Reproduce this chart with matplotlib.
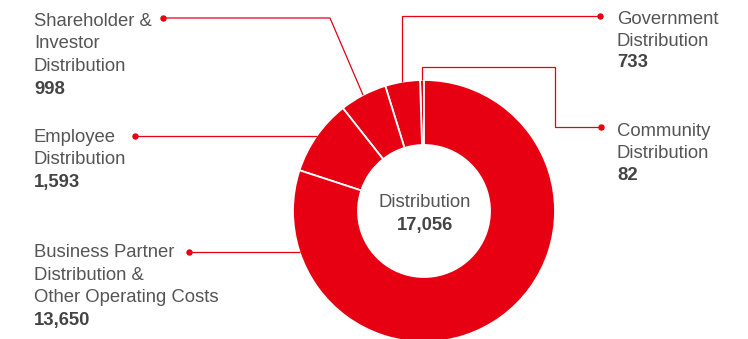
import matplotlib
matplotlib.use("Agg")
import matplotlib.pyplot as plt
import numpy as np

# ---- data -------------------------------------------------------------
categories = [
    "Community\nDistribution",
    "Government\nDistribution",
    "Shareholder &\nInvestor\nDistribution",
    "Employee\nDistribution",
    "Business Partner\nDistribution &\nOther Operating Costs",
]
values = [82, 733, 998, 1593, 13650]
center_title = "Distribution"

# ---- style ------------------------------------------------------------
RED = "#E60012"
TXT = "#555555"
NUM = "#444444"
FONT = ["Liberation Sans", "DejaVu Sans"]
FS = 13.3

W, H = 748, 339
fig = plt.figure(figsize=(W / 100, H / 100), dpi=100)
ax = fig.add_axes([0, 0, 1, 1])


def Y(y):
    """Convert a top-down layout coordinate to the axes' y."""
    return H - y


CX, CY, R, RING = 424, Y(211), 131, 65

wedges, _ = ax.pie(
    values,
    colors=[RED] * len(values),
    startangle=90,
    counterclock=True,
    radius=R,
    center=(CX, CY),
    wedgeprops=dict(width=RING, edgecolor="white", linewidth=1.3),
)
ax.set_xlim(0, W)
ax.set_ylim(0, H)
ax.set_aspect("equal")
ax.axis("off")


def mid_point(w):
    a = np.deg2rad((w.theta1 + w.theta2) / 2)
    return CX + R * np.cos(a), CY + R * np.sin(a)


def left_hit(y):
    dy = y - CY
    return CX - np.sqrt(R ** 2 - dy ** 2), y


line_kw = dict(color=RED, lw=0.9, solid_capstyle="butt", zorder=3)
dot_kw = dict(marker="o", ms=3.6, color=RED, zorder=4)

# Community: stepped leader to the right
cx_, cy_ = mid_point(wedges[0])
pts = [(cx_, cy_), (cx_, Y(67)), (555, Y(67)), (555, Y(127)), (601, Y(127))]
ax.plot(*zip(*pts), **line_kw)
ax.plot(601, Y(127), **dot_kw)

# Government: vertical then horizontal to the right
gx, gy = mid_point(wedges[1])
pts = [(gx, gy), (gx, Y(16)), (600, Y(16))]
ax.plot(*zip(*pts), **line_kw)
ax.plot(600, Y(16), **dot_kw)

# Shareholder: diagonal then horizontal to the left
sx, sy = mid_point(wedges[2])
pts = [(sx, sy), (330, Y(18)), (163, Y(18))]
ax.plot(*zip(*pts), **line_kw)
ax.plot(163, Y(18), **dot_kw)

# Employee: horizontal to the left
ex, ey = mid_point(wedges[3])
ax.plot([ex, 135], [ey, ey], **line_kw)
ax.plot(135, ey, **dot_kw)

# Business partner: horizontal to the left
bx, by = left_hit(Y(252))
ax.plot([bx, 189], [by, by], **line_kw)
ax.plot(189, by, **dot_kw)


def label(x, baselines, name, value):
    lines = name.split("\n")
    for b, t in zip(baselines, lines):
        ax.text(x, Y(b), t, fontsize=FS, color=TXT, family=FONT,
                ha="left", va="baseline")
    ax.text(x, Y(baselines[len(lines)]), f"{value:,}", fontsize=FS,
            color=NUM, family=FONT, fontweight="bold",
            ha="left", va="baseline")


label(617, [24, 45.5, 67], categories[1], values[1])
label(617, [136.5, 158, 180], categories[0], values[0])
label(34, [26, 48.5, 71, 94], categories[2], values[2])
label(34, [142, 164.5, 187], categories[3], values[3])
label(34, [257, 280, 302.5, 325], categories[4], values[4])

ax.text(CX + 1, Y(207), center_title, fontsize=FS, color=TXT, family=FONT,
        ha="center", va="baseline")
ax.text(CX + 1, Y(230), f"{sum(values):,}", fontsize=FS, color=NUM,
        family=FONT, fontweight="bold", ha="center", va="baseline")

fig.savefig("out.png", dpi=100, facecolor="white")
